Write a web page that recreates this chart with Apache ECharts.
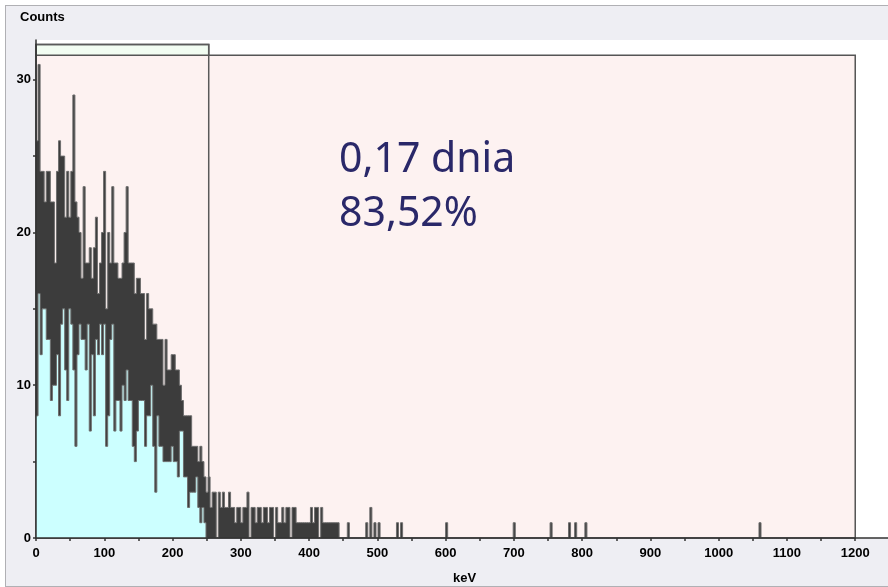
<!DOCTYPE html>
<html>
<head>
<meta charset="utf-8">
<title>Counts / keV</title>
<script src="https://cdn.jsdelivr.net/npm/echarts@6/dist/echarts.min.js"></script>
<style>
  html, body { margin: 0; padding: 0; background: #fff; }
  #frame { position: absolute; left: 5px; top: 5px; width: 890px; height: 580px;
           background: #eeeef3; border: 1px solid #b0b0b4; }
  #main { position: absolute; left: 0; top: 0; width: 888px; height: 587px; }
</style>
</head>
<body>
<div id="frame"></div>
<div id="main"></div>
<script>
'use strict';

// channel width of the histogram (keV)
var binWidth = 3;

// ROI 0..252 keV : upper envelope (dark) and lower envelope (cyan fill)
var roiHi = [26,31,24,24,22,24,24,22,22,18,24,26,25,25,21,24,21,24,29,22,21,20,17,23,18,18,19,17,
             19,21,16,18,20,24,15,20,18,23,18,18,17,17,18,20,23,18,18,18,16,17,17,16,16,13,16,15,
             15,14,14,13,13,13,10,13,11,11,12,12,11,11,10,9,8,8,8,8,6,6,6,5,6,5,4,3];
var roiLo = [8,16,12,15,15,13,13,9,10,10,12,8,14,15,11,9,15,14,11,6,12,14,13,13,11,14,7,12,
             8,13,12,14,12,14,6,8,13,14,7,9,9,7,10,9,11,9,9,6,5,7,9,9,9,6,8,8,
             10,6,3,8,6,6,5,5,5,5,6,5,5,4,7,7,4,4,2,3,3,3,4,2,1,2,1,0];

// tail after the ROI, 252..447 keV
var tailHi = [4,2,3,3,0,3,2,3,2,2,3,2,2,1,2,2,1,2,2,3,0,2,2,1,2,2,1,2,2,1,2,2,0,2,1,1,2,1,2,2,0,
              2,2,1,1,1,1,1,1,1,2,1,2,2,0,2,1,1,1,1,1,1,1,1,0];

// single counts further up the spectrum
var spikeKeV    = [456,483,489,495,501,528,534,600,699,753,780,789,804,1059];
var spikeCounts = [1,  1,  2,  1,  1,  1,  1,  1,  1,  1,  1,  1,  1,  1];

// axis ticks / labels
var xTickValues  = [0,50,100,150,200,250,300,350,400,450,500,550,600,650,700,750,800,850,900,950,1000,1050,1100,1150,1200];
var xLabelValues = [0,100,200,300,400,500,600,700,800,900,1000,1100,1200];
var yTickValues  = [0,5,10,15,20,25,30];
var yLabelValues = [0,10,20,30];

var roiEnd = 253;
var spectrumEnd = 1200;

var annotation = ['0,17 dnia', '83,52%'];

var hiData = [];
var nBins = spectrumEnd / binWidth;
for (var i = 0; i < nBins; i++) {
    var v = 0;
    if (i < roiHi.length) v = roiHi[i];
    else if (i < roiHi.length + tailHi.length) v = tailHi[i - roiHi.length];
    hiData.push([i * binWidth, v]);
}
spikeKeV.forEach(function (k, j) {
    hiData[Math.round(k / binWidth)][1] = spikeCounts[j];
});
hiData.push([spectrumEnd, 0]);

var loData = roiLo.map(function (v, i) { return [i * binWidth, v]; });
loData.push([roiLo.length * binWidth, 0]);

var labelFont = {
    fontFamily: 'Liberation Sans, Arial, sans-serif',
    fontSize: 13,
    fontWeight: 'bold',
    color: '#000'
};
var plainNumber = function (v) { return String(v); };

var myChart = echarts.init(document.getElementById('main'), null, { renderer: 'canvas' });

var option = {
    animation: false,
    backgroundColor: 'transparent',
    grid: {
        left: 36, right: 0, top: 40, bottom: 49,
        show: true, backgroundColor: '#ffffff', borderWidth: 0
    },
    xAxis: {
        type: 'value',
        min: 0,
        max: 1248,
        interval: 50,
        z: 10,
        splitLine: { show: false },
        axisLine: { show: true, lineStyle: { color: '#333', width: 1.5 } },
        axisTick: { show: true, length: 3, customValues: xTickValues, lineStyle: { color: '#333', width: 1.5 } },
        axisLabel: Object.assign({ margin: 9, customValues: xLabelValues, formatter: plainNumber }, labelFont)
    },
    yAxis: {
        type: 'value',
        min: 0,
        max: 32.6,
        interval: 5,
        z: 10,
        splitLine: { show: false },
        axisLine: { show: true, lineStyle: { color: '#333', width: 1.5 } },
        axisTick: { show: true, length: 3, customValues: yTickValues, lineStyle: { color: '#333', width: 1.5 } },
        axisLabel: Object.assign({ margin: 5, customValues: yLabelValues, formatter: plainNumber }, labelFont)
    },
    graphic: [
        { type: 'text', left: 20, top: 11, z: 100,
          style: { text: 'Counts', font: 'bold 13px "Liberation Sans", Arial, sans-serif', fill: '#000' } },
        { type: 'text', left: 453, top: 572, z: 100,
          style: { text: 'keV', font: 'bold 13px "Liberation Sans", Arial, sans-serif', fill: '#000' } },
        { type: 'text', left: 339, top: 140, z: 100,
          style: { text: annotation[0], font: '41px "Noto Sans", sans-serif', fill: '#2a2869' } },
        { type: 'text', left: 339, top: 194, z: 100,
          style: { text: annotation[1], font: '41px "Noto Sans", sans-serif', fill: '#2a2869' } }
    ],
    series: [
        {
            // display frame + ROI band
            name: 'frame',
            type: 'line',
            z: 1,
            silent: true,
            symbol: 'none',
            data: [],
            markArea: {
                silent: true,
                label: { show: false },
                data: [
                    [{ xAxis: 0, yAxis: 0, itemStyle: { color: '#fdf2f1', borderColor: '#555', borderWidth: 1.5 } },
                     { xAxis: spectrumEnd, yAxis: 31.6 }],
                    [{ xAxis: 0, yAxis: 31.6, itemStyle: { color: '#f2fdf2', borderColor: '#555', borderWidth: 1.5 } },
                     { xAxis: roiEnd, yAxis: 32.3 }]
                ]
            }
        },
        {
            name: 'counts',
            type: 'line',
            step: 'end',
            z: 2,
            symbol: 'none',
            silent: true,
            data: hiData,
            lineStyle: { color: '#6e6e6e', width: 1 },
            areaStyle: { color: '#3c3c3c', opacity: 1 }
        },
        {
            name: 'roi',
            type: 'line',
            step: 'end',
            z: 3,
            symbol: 'none',
            silent: true,
            data: loData,
            lineStyle: { color: '#6e6e6e', width: 1 },
            areaStyle: { color: '#ccffff', opacity: 1 }
        },
        {
            // ROI marker outline drawn over the spectrum
            name: 'roiMarker',
            type: 'line',
            z: 4,
            silent: true,
            symbol: 'none',
            data: [],
            markArea: {
                silent: true,
                label: { show: false },
                data: [
                    [{ xAxis: 0, yAxis: 0, itemStyle: { color: 'rgba(0,0,0,0)', borderColor: '#5a5a5a', borderWidth: 1.5 } },
                     { xAxis: roiEnd, yAxis: 32.3 }]
                ]
            }
        }
    ]
};

try {
    myChart.setOption(option);
} catch (e) {
    console.log(e);
}
</script>
</body>
</html>
